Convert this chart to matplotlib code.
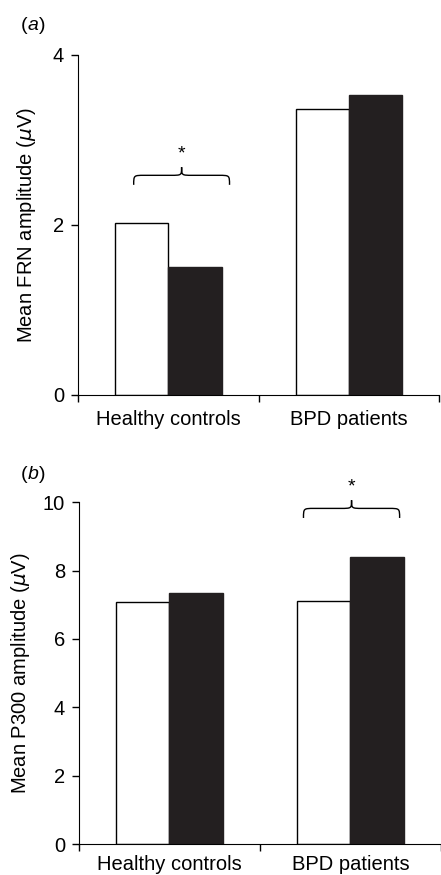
import matplotlib.pyplot as plt
from matplotlib.path import Path
from matplotlib.patches import PathPatch
import numpy as np

plt.rcParams['font.family'] = ['Liberation Sans', 'DejaVu Sans']

# datos
grupos = ['Healthy controls', 'BPD patients']
frn_blanco = [2.02, 3.37]
frn_negro = [1.50, 3.53]
p300_blanco = [7.07, 7.11]
p300_negro = [7.34, 8.41]

ancho = 0.295
negro = '#231f20'


def llave(ax, x0, x1, yb, yf, yt, dx):
    # llave horizontal (curly brace) con la punta hacia arriba
    xm = (x0 + x1) / 2
    verts = [(x0, yb), (x0, yf), (x0, yf), (x0 + dx, yf),
             (xm - dx, yf),
             (xm, yf), (xm, yf), (xm, yt),
             (xm, yf), (xm, yf), (xm + dx, yf),
             (x1 - dx, yf),
             (x1, yf), (x1, yf), (x1, yb)]
    codes = [Path.MOVETO, Path.CURVE4, Path.CURVE4, Path.CURVE4,
             Path.LINETO,
             Path.CURVE4, Path.CURVE4, Path.CURVE4,
             Path.CURVE4, Path.CURVE4, Path.CURVE4,
             Path.LINETO,
             Path.CURVE4, Path.CURVE4, Path.CURVE4]
    ax.add_patch(PathPatch(Path(verts, codes), fill=False, lw=1.0,
                           color='black', clip_on=False))


def panel(ax, blanco, negro_vals, ymax, ticks, ylabel, letra, idx_sig,
          lab_x, letra_x, letra_y, pad_x):
    x = np.arange(len(grupos))
    ax.bar(x - ancho / 2, blanco, ancho, color='white', edgecolor='black', lw=1.0)
    ax.bar(x + ancho / 2, negro_vals, ancho, color=negro, edgecolor=negro, lw=1.0)
    ax.set_xlim(-0.5, 1.5)
    ax.set_ylim(0, ymax)
    ax.set_yticks(ticks)
    ax.set_xticks([-0.5, 0.5, 1.5])
    ax.set_xticklabels([])
    ax.set_xticks(x, minor=True)
    ax.set_xticklabels(grupos, minor=True, fontsize=14.5)
    ax.tick_params(axis='x', which='minor', length=0, pad=pad_x)
    ax.tick_params(axis='x', which='major', length=5, width=1)
    ax.tick_params(axis='y', length=5, width=1, labelsize=14.5, pad=5)
    ax.spines['top'].set_visible(False)
    ax.spines['right'].set_visible(False)
    ax.set_ylabel(ylabel, fontsize=14.5)
    ax.yaxis.set_label_coords(lab_x, 0.5)
    ax.text(letra_x, letra_y, '(', transform=ax.transAxes, fontsize=14, ha='left', va='center')
    ax.text(letra_x + 0.019, letra_y, letra, transform=ax.transAxes, fontsize=14,
            style='italic', ha='left', va='center')
    ax.text(letra_x + 0.050, letra_y, ')', transform=ax.transAxes, fontsize=14, ha='left', va='center')

    # llave de significancia sobre el grupo
    g = idx_sig
    top = max(blanco[g], negro_vals[g])
    x0 = g - ancho * 0.65
    x1 = g + ancho * 1.15
    if g == 1:
        x0 = g - ancho * 0.88
        x1 = g + ancho * 0.92
    base = top + ymax * 0.113
    llave(ax, x0, x1, base, base + ymax * 0.028, base + ymax * 0.052, 0.06)
    ax.text((x0 + x1) / 2, base + ymax * 0.09, '*', ha='center', va='center',
            fontsize=14, clip_on=False)


fig = plt.figure(figsize=(4.41, 8.75), dpi=100)
ax1 = fig.add_axes([0.177, 0.5486, 0.8185, 0.3886])
ax2 = fig.add_axes([0.179, 0.0354, 0.821, 0.3906])

panel(ax1, frn_blanco, frn_negro, 4, [0, 2, 4], r'Mean FRN amplitude ($\mu$V)',
      'a', 0, -0.111, -0.158, 1.088, 11)
panel(ax2, p300_blanco, p300_negro, 10, [0, 2, 4, 6, 8, 10], r'Mean P300 amplitude ($\mu$V)',
      'b', 1, -0.13, -0.160, 1.08, 8)

fig.savefig('out.png', dpi=100)
